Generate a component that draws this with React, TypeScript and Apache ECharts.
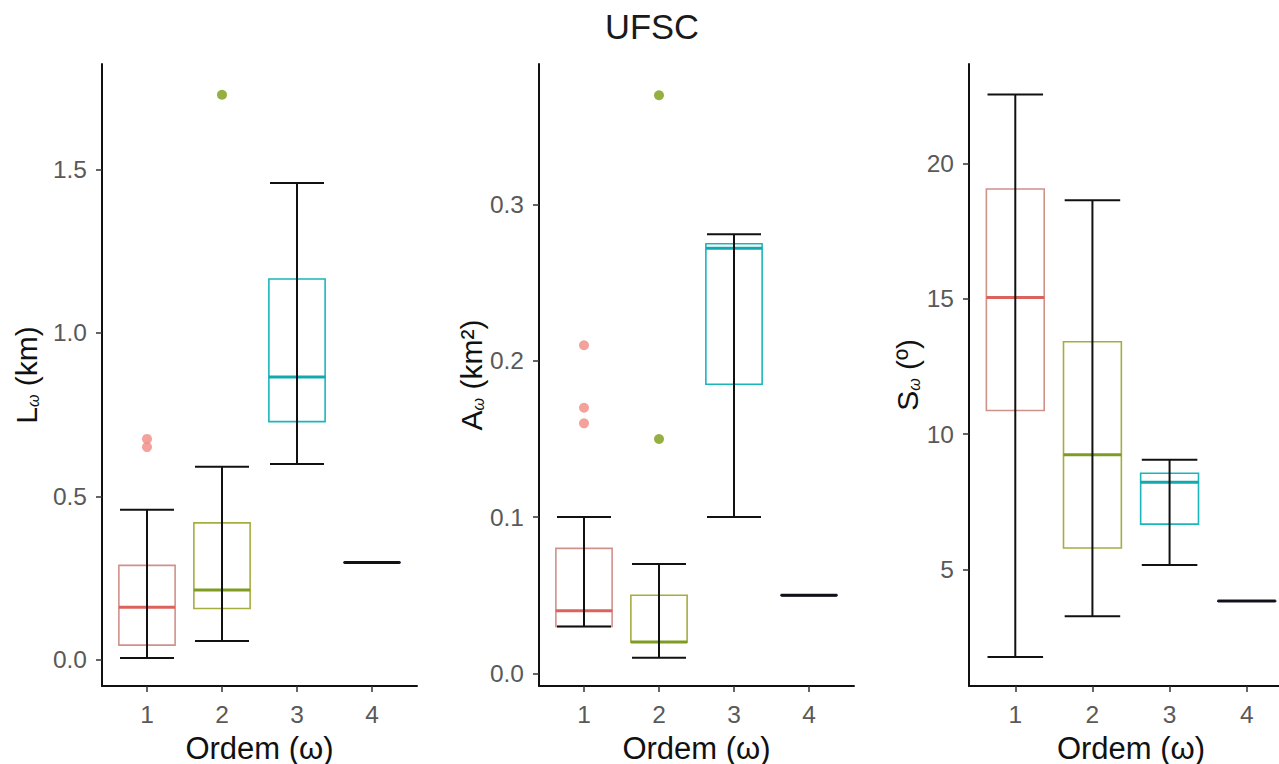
import React, { useEffect, useRef } from "react";
import * as echarts from "echarts";

// Stream order categories
const categories = ["1", "2", "3", "4"];

// Lω (km): whisker ends, quartiles and medians per order
const lowL = [0.006, 0.058, 0.599, 0.298];
const q1L = [0.045, 0.157, 0.729, 0.298];
const medL = [0.161, 0.214, 0.865, 0.298];
const q3L = [0.289, 0.419, 1.165, 0.298];
const highL = [0.459, 0.591, 1.459, 0.298];
const outOrderL = [1, 1, 2];
const outValueL = [0.676, 0.651, 1.729];

// Aω (km²)
const lowA = [0.03, 0.01, 0.1, 0.05];
const q1A = [0.03, 0.02, 0.185, 0.05];
const medA = [0.04, 0.02, 0.272, 0.05];
const q3A = [0.08, 0.05, 0.275, 0.05];
const highA = [0.1, 0.07, 0.281, 0.05];
const outOrderA = [1, 1, 1, 2, 2];
const outValueA = [0.21, 0.17, 0.16, 0.15, 0.37];

// Sω (º)
const lowS = [1.76, 3.27, 5.16, 3.83];
const q1S = [10.87, 5.79, 6.67, 3.83];
const medS = [15.04, 9.23, 8.22, 3.83];
const q3S = [19.05, 13.41, 8.55, 3.83];
const highS = [22.54, 18.64, 9.05, 3.83];

// Tick labels
const ticksL = [0, 0.5, 1, 1.5];
const ticksA = [0, 0.1, 0.2, 0.3];
const ticksS = [5, 10, 15, 20];
const ticksX = [1, 2, 3, 4];

const boxColors = ["#d0918a", "#a6ad40", "#1ab6bb", "#2a2248"];
const medianColors = ["#dc625c", "#7f9b22", "#12a9ae", "#1c1838"];
const outlierColors = ["#f08a82", "#7b9c12", "#1ab6bb", "#2a2248"];

const FONT = "'Liberation Sans', Arial, sans-serif";

function boxRows(lo: number[], q1: number[], med: number[], q3: number[], hi: number[]) {
  return categories.map((c, i) => [Number(c), lo[i], q1[i], med[i], q3[i], hi[i]]);
}

function renderBox(params: any, api: any) {
  const i = params.dataIndex;
  const x = api.value(0);
  const lo = api.value(1);
  const q1 = api.value(2);
  const med = api.value(3);
  const q3 = api.value(4);
  const hi = api.value(5);
  const bh = 0.375;
  const ch = 0.36;
  const tl = api.coord([x - bh, q3]);
  const br = api.coord([x + bh, q1]);
  const mL = api.coord([x - bh, med]);
  const mR = api.coord([x + bh, med]);
  const top = api.coord([x, hi]);
  const bot = api.coord([x, lo]);
  const capTL = api.coord([x - ch, hi]);
  const capTR = api.coord([x + ch, hi]);
  const capBL = api.coord([x - ch, lo]);
  const capBR = api.coord([x + ch, lo]);
  const black = { stroke: "#111111", lineWidth: 2 };
  return {
    type: "group",
    children: [
      {
        type: "rect",
        shape: { x: tl[0], y: tl[1], width: br[0] - tl[0], height: Math.max(br[1] - tl[1], 0.1) },
        style: { fill: "none", stroke: boxColors[i], lineWidth: 1.6 },
      },
      {
        type: "line",
        shape: { x1: mL[0], y1: mL[1], x2: mR[0], y2: mR[1] },
        style: { stroke: medianColors[i], lineWidth: 3 },
      },
      { type: "line", shape: { x1: top[0], y1: top[1], x2: bot[0], y2: bot[1] }, style: black },
      { type: "line", shape: { x1: capTL[0], y1: capTL[1], x2: capTR[0], y2: capTR[1] }, style: black },
      { type: "line", shape: { x1: capBL[0], y1: capBL[1], x2: capBR[0], y2: capBR[1] }, style: black },
    ],
  };
}

const grids = [
  { left: 102, top: 64, width: 315, height: 622, containLabel: false, outerBoundsMode: "none" },
  { left: 539, top: 64, width: 315, height: 622, containLabel: false, outerBoundsMode: "none" },
  { left: 969, top: 64, width: 324, height: 622, containLabel: false, outerBoundsMode: "none" },
];

function xAxisFor(gridIndex: number) {
  return {
    type: "value",
    gridIndex,
    min: 0.4,
    max: 4.6,
    name: "Ordem (ω)",
    nameLocation: "middle",
    nameGap: 47,
    nameTextStyle: { fontFamily: FONT, fontSize: 31, lineHeight: 30, color: "#111111" },
    axisLine: { onZero: false, lineStyle: { color: "#111111", width: 2 } },
    axisTick: { customValues: ticksX, length: 6, lineStyle: { color: "#333333", width: 1.5 } },
    axisLabel: {
      customValues: ticksX,
      margin: 16,
      fontFamily: FONT,
      fontSize: 24.5,
      color: "#595959",
    },
    splitLine: { show: false },
  };
}

function yAxisFor(gridIndex: number, min: number, max: number, ticks: number[], name: string, gap: number, digits: number) {
  return {
    type: "value",
    gridIndex,
    min,
    max,
    name,
    nameLocation: "middle",
    nameRotate: 90,
    nameGap: gap,
    nameTextStyle: {
      fontFamily: FONT,
      color: "#111111",
      rich: {
        b: { fontFamily: FONT, fontSize: 30, color: "#111111" },
        s: { fontFamily: FONT, fontSize: 16, fontStyle: "italic", color: "#111111", verticalAlign: "bottom", padding: [14, 0, 0, 0] },
      },
    },
    axisLine: { onZero: false, lineStyle: { color: "#111111", width: 2 } },
    axisTick: { customValues: ticks, length: 6, lineStyle: { color: "#333333", width: 1.5 } },
    axisLabel: {
      customValues: ticks,
      margin: 15,
      fontFamily: FONT,
      fontSize: 24.5,
      color: "#595959",
      formatter: (v: number) => v.toFixed(digits),
    },
    splitLine: { show: false },
  };
}

function outlierData(orders: number[], values: number[]) {
  return orders.map((o, i) => ({
    value: [o, values[i]],
    itemStyle: { color: outlierColors[o - 1] },
  }));
}

export default function App() {
  const ref = useRef<HTMLDivElement>(null);

  useEffect(() => {
    if (!ref.current) return;
    const chart = echarts.init(ref.current, null, { renderer: "svg" });
    chart.setOption({
      animation: false,
      backgroundColor: "#ffffff",
      title: {
        text: "UFSC",
        left: 647,
        top: 4,
        textAlign: "center",
        textStyle: { fontFamily: FONT, fontSize: 34.5, fontWeight: "normal", color: "#1a1a1a" },
      },
      grid: grids,
      xAxis: [xAxisFor(0), xAxisFor(1), xAxisFor(2)],
      yAxis: [
        yAxisFor(0, -0.08, 1.823, ticksL, "{b|L}{s|ω}{b| (km)}", 61, 1),
        yAxisFor(1, -0.0081, 0.39, ticksA, "{b|A}{s|ω}{b| (km²)}", 51, 1),
        yAxisFor(2, 0.69, 23.67, ticksS, "{b|S}{s|ω}{b| (º)}", 44, 0),
      ],
      series: [
        { type: "custom", xAxisIndex: 0, yAxisIndex: 0, renderItem: renderBox, data: boxRows(lowL, q1L, medL, q3L, highL), encode: { x: 0, y: [1, 2, 3, 4, 5] } },
        { type: "custom", xAxisIndex: 1, yAxisIndex: 1, renderItem: renderBox, data: boxRows(lowA, q1A, medA, q3A, highA), encode: { x: 0, y: [1, 2, 3, 4, 5] } },
        { type: "custom", xAxisIndex: 2, yAxisIndex: 2, renderItem: renderBox, data: boxRows(lowS, q1S, medS, q3S, highS), encode: { x: 0, y: [1, 2, 3, 4, 5] } },
        { type: "scatter", xAxisIndex: 0, yAxisIndex: 0, symbolSize: 10, data: outlierData(outOrderL, outValueL) },
        { type: "scatter", xAxisIndex: 1, yAxisIndex: 1, symbolSize: 10, data: outlierData(outOrderA, outValueA) },
      ],
    });
    return () => chart.dispose();
  }, []);

  return (
    <div
      ref={ref}
      style={{ position: "fixed", left: 0, top: 0, width: 1279, height: 764, background: "#ffffff" }}
    />
  );
}
